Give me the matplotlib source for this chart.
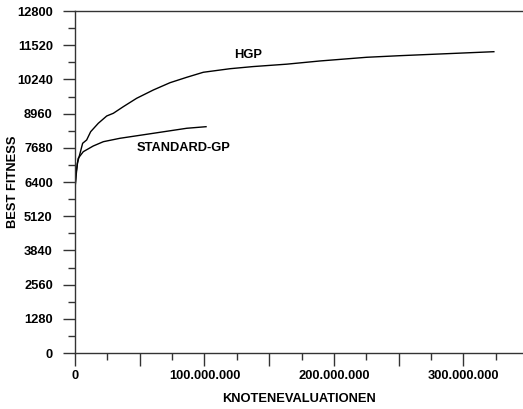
import numpy as np
import matplotlib.pyplot as plt
from matplotlib.ticker import MultipleLocator, FuncFormatter

plt.rcParams['font.family'] = 'Liberation Sans'
plt.rcParams['font.weight'] = 'bold'

# evaluations in millions, best fitness
hgp_x = [0, 0.8, 1.8, 3.9, 5.9, 9.0, 12.1, 18.0, 24.5, 29.6, 37.3, 47.6, 60.5, 73.4,
         86.3, 99.1, 119.7, 137.5, 163.5, 189.2, 225.3, 251, 323.5]
hgp_y = [6150, 6599, 7101, 7475, 7849, 7973, 8283, 8598, 8871, 8972, 9219, 9533, 9844,
         10117, 10319, 10507, 10640, 10720, 10810, 10930, 11068, 11128, 11277]

std_x = [0, 0.8, 2.5, 6.4, 14.1, 21.9, 34.7, 60.5, 86.3, 101.2]
std_y = [6150, 6726, 7288, 7535, 7748, 7909, 8036, 8223, 8411, 8470]

fig = plt.figure(figsize=(5.23, 4.09), dpi=100)
ax = fig.add_axes([0.1434, 0.1369, 0.8566, 0.8362])

ax.plot(np.array(hgp_x) * 1e6, hgp_y, color='black', lw=1.0)
ax.plot(np.array(std_x) * 1e6, std_y, color='black', lw=1.0)

ax.text(134e6, 11154, 'HGP', fontsize=9.3, fontweight='bold', ha='center', va='center')
ax.text(83.5e6, 7673, 'STANDARD-GP', fontsize=9.3, fontweight='bold', ha='center', va='center')

ax.set_xlim(0, 346e6)
ax.set_ylim(0, 12800)

ax.yaxis.set_major_locator(MultipleLocator(1280))
ax.yaxis.set_minor_locator(MultipleLocator(640))
ax.xaxis.set_major_locator(MultipleLocator(50e6))
ax.xaxis.set_minor_locator(MultipleLocator(25e6))

def xfmt(v, pos):
    if v % 100e6 != 0:
        return ''
    if v == 0:
        return '0'
    return f'{int(v):,}'.replace(',', '.')

ax.xaxis.set_major_formatter(FuncFormatter(xfmt))

ax.tick_params(which='major', length=9, width=1, color='#333333', labelsize=9.3)
ax.tick_params(which='minor', length=5, width=1, color='#333333')
ax.tick_params(axis='y', which='major', pad=7)
ax.tick_params(axis='x', which='major', pad=3)

ax.spines['right'].set_visible(False)
for s in ['left', 'bottom', 'top']:
    ax.spines[s].set_linewidth(1)
    ax.spines[s].set_color('#333333')

ax.set_xlabel('KNOTENEVALUATIONEN', fontsize=9.3, fontweight='bold', labelpad=8)
ax.set_ylabel('BEST FITNESS', fontsize=9.3, fontweight='bold', va='center')
ax.yaxis.set_label_coords(-0.138, 0.5)

fig.savefig('out.png', dpi=100)
